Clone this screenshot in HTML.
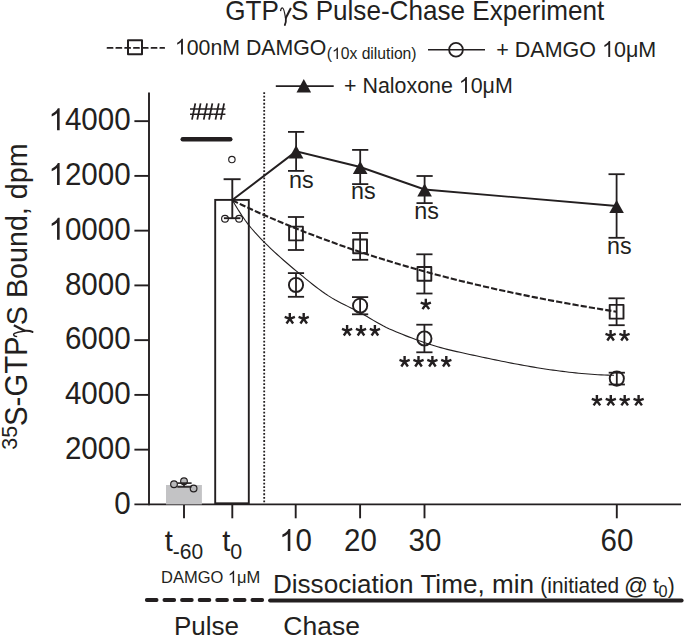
<!DOCTYPE html>
<html><head><meta charset="utf-8"><style>
html,body{margin:0;padding:0;background:#fff;overflow:hidden;width:685px;height:636px;}
svg{display:block;}
text{font-family:"Liberation Sans", sans-serif;fill:#231f20;stroke:none;}
</style></head><body>
<svg width="685" height="636" viewBox="0 0 685 636" stroke="#231f20">
<text transform="translate(225.29,19.70) scale(1.0,1.04)" font-size="26.1" >GTP</text>
<g transform="translate(280.00,19.70) scale(26.1)" fill="none"><path d="M0.02,-0.33 C0.03,-0.42 0.06,-0.455 0.095,-0.455 C0.15,-0.455 0.175,-0.30 0.215,-0.05" stroke-width="0.048"/><path d="M0.418,-0.445 L0.215,-0.05" stroke-width="0.08"/><path d="M0.225,-0.06 C0.235,0.05 0.215,0.15 0.185,0.205" stroke-width="0.07" stroke-linecap="round"/></g>
<text transform="translate(291.03,19.70) scale(1.0,1.04)" font-size="26.1" >S Pulse-Chase Experiment</text>
<line x1="107.50" y1="47.90" x2="164.20" y2="47.90" stroke-width="1.8" stroke-dasharray="5.1 3.7" stroke-linecap="round"/>
<rect x="128.00" y="40.20" width="14" height="14" fill="none" stroke-width="2" stroke-linejoin="round"/>
<text transform="translate(174.88,54.60) scale(1.0,1.04)" font-size="21.3" > 00nM DAMGO</text>
<path transform="translate(174.88,54.60) scale(21.300,22.152)" d="M0.378,0 L0.29,0 L0.29,-0.555 C0.25,-0.52 0.18,-0.475 0.109,-0.447 L0.109,-0.535 C0.2,-0.58 0.28,-0.64 0.318,-0.716 L0.378,-0.716 Z" stroke="none" fill="#231f20"/>
<text transform="translate(326.76,59.10) scale(1.0,1.04)" font-size="15.7" >( 0x dilution)</text>
<path transform="translate(331.99,59.10) scale(15.700,16.328)" d="M0.378,0 L0.29,0 L0.29,-0.555 C0.25,-0.52 0.18,-0.475 0.109,-0.447 L0.109,-0.535 C0.2,-0.58 0.28,-0.64 0.318,-0.716 L0.378,-0.716 Z" stroke="none" fill="#231f20"/>
<line x1="428.00" y1="49.70" x2="485.00" y2="49.70" stroke-width="1.5" />
<circle cx="456" cy="49.7" r="6.9" fill="none" stroke-width="1.8"/>
<text transform="translate(496.32,57.00) scale(1.0,1.04)" font-size="21.5" >+ DAMGO  0μM</text>
<path transform="translate(602.05,57.00) scale(21.500,22.360)" d="M0.378,0 L0.29,0 L0.29,-0.555 C0.25,-0.52 0.18,-0.475 0.109,-0.447 L0.109,-0.535 C0.2,-0.58 0.28,-0.64 0.318,-0.716 L0.378,-0.716 Z" stroke="none" fill="#231f20"/>
<line x1="275.80" y1="86.10" x2="333.70" y2="86.10" stroke-width="1.8" />
<polygon points="303.8,79 296.5,92.6 311.1,92.6" fill="#231f20" stroke="none"/>
<text transform="translate(344.03,92.90) scale(1.0,1.04)" font-size="21.4" >+ Naloxone  0μM</text>
<path transform="translate(458.84,92.90) scale(21.400,22.256)" d="M0.378,0 L0.29,0 L0.29,-0.555 C0.25,-0.52 0.18,-0.475 0.109,-0.447 L0.109,-0.535 C0.2,-0.58 0.28,-0.64 0.318,-0.716 L0.378,-0.716 Z" stroke="none" fill="#231f20"/>
<line x1="149.00" y1="92.50" x2="149.00" y2="505.30" stroke-width="1.9" />
<line x1="134.40" y1="504.40" x2="681.00" y2="504.40" stroke-width="1.9" />
<line x1="134.40" y1="449.65" x2="149.00" y2="449.65" stroke-width="1.9" />
<line x1="134.40" y1="394.90" x2="149.00" y2="394.90" stroke-width="1.9" />
<line x1="134.40" y1="340.15" x2="149.00" y2="340.15" stroke-width="1.9" />
<line x1="134.40" y1="285.40" x2="149.00" y2="285.40" stroke-width="1.9" />
<line x1="134.40" y1="230.65" x2="149.00" y2="230.65" stroke-width="1.9" />
<line x1="134.40" y1="175.90" x2="149.00" y2="175.90" stroke-width="1.9" />
<line x1="134.40" y1="121.15" x2="149.00" y2="121.15" stroke-width="1.9" />
<text transform="translate(114.31,513.60) scale(1.0,1.04)" font-size="29.6" >0</text>
<text transform="translate(64.88,458.85) scale(1.0,1.04)" font-size="29.6" >2000</text>
<text transform="translate(64.88,404.10) scale(1.0,1.04)" font-size="29.6" >4000</text>
<text transform="translate(64.88,349.35) scale(1.0,1.04)" font-size="29.6" >6000</text>
<text transform="translate(64.88,294.60) scale(1.0,1.04)" font-size="29.6" >8000</text>
<text transform="translate(48.45,239.85) scale(1.0,1.04)" font-size="29.6" > 0000</text>
<path transform="translate(48.45,239.85) scale(29.600,30.784)" d="M0.378,0 L0.29,0 L0.29,-0.555 C0.25,-0.52 0.18,-0.475 0.109,-0.447 L0.109,-0.535 C0.2,-0.58 0.28,-0.64 0.318,-0.716 L0.378,-0.716 Z" stroke="none" fill="#231f20"/>
<text transform="translate(48.45,185.10) scale(1.0,1.04)" font-size="29.6" > 2000</text>
<path transform="translate(48.45,185.10) scale(29.600,30.784)" d="M0.378,0 L0.29,0 L0.29,-0.555 C0.25,-0.52 0.18,-0.475 0.109,-0.447 L0.109,-0.535 C0.2,-0.58 0.28,-0.64 0.318,-0.716 L0.378,-0.716 Z" stroke="none" fill="#231f20"/>
<text transform="translate(48.45,130.35) scale(1.0,1.04)" font-size="29.6" > 4000</text>
<path transform="translate(48.45,130.35) scale(29.600,30.784)" d="M0.378,0 L0.29,0 L0.29,-0.555 C0.25,-0.52 0.18,-0.475 0.109,-0.447 L0.109,-0.535 C0.2,-0.58 0.28,-0.64 0.318,-0.716 L0.378,-0.716 Z" stroke="none" fill="#231f20"/>
<line x1="184.00" y1="504.40" x2="184.00" y2="518.30" stroke-width="1.9" />
<line x1="232.30" y1="504.40" x2="232.30" y2="518.30" stroke-width="1.9" />
<line x1="295.70" y1="504.40" x2="295.70" y2="518.30" stroke-width="1.9" />
<line x1="360.10" y1="504.40" x2="360.10" y2="518.30" stroke-width="1.9" />
<line x1="424.50" y1="504.40" x2="424.50" y2="518.30" stroke-width="1.9" />
<line x1="616.80" y1="504.40" x2="616.80" y2="518.30" stroke-width="1.9" />
<text transform="translate(279.19,551.00) scale(1.0,1.04)" font-size="29.5" > 0</text>
<path transform="translate(279.19,551.00) scale(29.500,30.680)" d="M0.378,0 L0.29,0 L0.29,-0.555 C0.25,-0.52 0.18,-0.475 0.109,-0.447 L0.109,-0.535 C0.2,-0.58 0.28,-0.64 0.318,-0.716 L0.378,-0.716 Z" stroke="none" fill="#231f20"/>
<text transform="translate(344.01,551.00) scale(1.0,1.04)" font-size="29.5" >20</text>
<text transform="translate(408.55,551.00) scale(1.0,1.04)" font-size="29.5" >30</text>
<text transform="translate(600.61,551.00) scale(1.0,1.04)" font-size="29.5" >60</text>
<text x="164.87" y="551.00" font-size="29" >t</text>
<text transform="translate(172.86,559.40) scale(1.0,1.04)" font-size="21" >-60</text>
<text x="222.37" y="551.00" font-size="29" >t</text>
<text transform="translate(230.14,559.40) scale(1.0,1.04)" font-size="21.5" >0</text>
<text transform="translate(160.98,583.10) scale(1.0,1.04)" font-size="16.5" >DAMGO  μM</text>
<path transform="translate(227.90,583.10) scale(16.500,17.160)" d="M0.378,0 L0.29,0 L0.29,-0.555 C0.25,-0.52 0.18,-0.475 0.109,-0.447 L0.109,-0.535 C0.2,-0.58 0.28,-0.64 0.318,-0.716 L0.378,-0.716 Z" stroke="none" fill="#231f20"/>
<text transform="translate(272.91,592.60) scale(1.0,1.02)" font-size="26.1" >Dissociation Time, min</text>
<text transform="translate(540.35,592.60) scale(1.0,1.02)" font-size="20.85" >(initiated</text>
<text x="624.00" y="594.00" font-size="23.7" >@</text>
<text transform="translate(653.09,592.60) scale(1.0,1.02)" font-size="20.85" >t</text>
<text transform="translate(658.45,597.40) scale(1.0,1.04)" font-size="16.3" >0</text>
<text transform="translate(667.67,592.60) scale(1.0,1.02)" font-size="20.85" >)</text>
<line x1="146.80" y1="600.00" x2="262.80" y2="600.00" stroke-width="3.8" stroke-linecap="round" stroke-dasharray="9.8 7.8"/>
<line x1="270.10" y1="600.50" x2="681.60" y2="600.50" stroke-width="4" stroke-linecap="round"/>
<text x="173.92" y="634.80" font-size="26" >Pulse</text>
<text x="283.28" y="634.50" font-size="26.5" >Chase</text>
<g transform="rotate(-90)">
<text transform="translate(-449.76,16.70) scale(1.0,1.05)" font-size="21.5" >35</text>
<text transform="translate(-425.92,26.60) scale(1.0,1.06)" font-size="29.3" >S-GTP</text>
<g transform="translate(-337.20,26.60) scale(28.6)" fill="none"><path d="M0.02,-0.33 C0.03,-0.42 0.06,-0.455 0.095,-0.455 C0.15,-0.455 0.175,-0.30 0.215,-0.05" stroke-width="0.048"/><path d="M0.418,-0.445 L0.215,-0.05" stroke-width="0.08"/><path d="M0.225,-0.06 C0.235,0.05 0.215,0.15 0.185,0.205" stroke-width="0.07" stroke-linecap="round"/></g>
<text transform="translate(-325.19,26.60) scale(1.0,1.06)" font-size="28.7" >S Bound, dpm</text>
</g>
<rect x="166" y="485" width="35.9" height="19.399999999999977" fill="#c3c3c5" stroke="none"/>
<circle cx="174" cy="484.3" r="3.35" fill="#b9b9bb" stroke-width="1.15"/>
<circle cx="184" cy="481.3" r="3.35" fill="#b9b9bb" stroke-width="1.15"/>
<circle cx="193.6" cy="488.5" r="3.35" fill="#b9b9bb" stroke-width="1.15"/>
<line x1="177.30" y1="483.10" x2="191.60" y2="483.10" stroke-width="1.6" />
<line x1="177.30" y1="486.90" x2="191.60" y2="486.90" stroke-width="1.6" />
<line x1="184.00" y1="483.10" x2="184.00" y2="486.90" stroke-width="1.6" />
<rect x="215.2" y="199.9" width="33.6" height="303.40" fill="none" stroke-width="1.9"/>
<line x1="232.30" y1="179.20" x2="232.30" y2="218.20" stroke-width="1.9" />
<line x1="223.60" y1="179.20" x2="240.60" y2="179.20" stroke-width="1.9" />
<line x1="223.90" y1="218.20" x2="240.40" y2="218.20" stroke-width="1.9" />
<circle cx="231.9" cy="159.5" r="3.2" fill="none" stroke-width="1.15"/>
<circle cx="225" cy="218.7" r="3.4" fill="none" stroke-width="1.15"/>
<circle cx="239.1" cy="218.7" r="3.4" fill="none" stroke-width="1.15"/>
<path d="M195.30,103.3 L192.00,119.6 M200.60,103.3 L197.30,119.6" stroke-width="1.75" fill="none"/>
<path d="M190.00,109.05 h11.9 M190.00,114.3 h11.9" stroke-width="1.5" fill="none"/>
<path d="M207.05,103.3 L203.75,119.6 M212.35,103.3 L209.05,119.6" stroke-width="1.75" fill="none"/>
<path d="M201.75,109.05 h11.9 M201.75,114.3 h11.9" stroke-width="1.5" fill="none"/>
<path d="M218.80,103.3 L215.50,119.6 M224.10,103.3 L220.80,119.6" stroke-width="1.75" fill="none"/>
<path d="M213.50,109.05 h11.9 M213.50,114.3 h11.9" stroke-width="1.5" fill="none"/>
<line x1="182.70" y1="139.30" x2="230.30" y2="139.30" stroke-width="4.4" stroke-linecap="round"/>
<line x1="264.20" y1="92.20" x2="264.20" y2="503.50" stroke-width="1.8" stroke-dasharray="1.8 1.75"/>
<path d="M232.30,200.30 L237.16,202.64 L242.03,204.95 L246.89,207.23 L251.75,209.48 L256.62,211.69 L261.48,213.87 L266.34,216.02 L271.21,218.14 L276.07,220.23 L280.93,222.29 L285.80,224.32 L290.66,226.32 L295.52,228.29 L300.39,230.23 L305.25,232.15 L310.11,234.04 L314.98,235.90 L319.84,237.73 L324.70,239.54 L329.57,241.32 L334.43,243.08 L339.29,244.81 L344.16,246.52 L349.02,248.20 L353.88,249.86 L358.75,251.50 L363.61,253.11 L368.47,254.70 L373.34,256.26 L378.20,257.81 L383.06,259.33 L387.93,260.83 L392.79,262.31 L397.65,263.76 L402.52,265.20 L407.38,266.62 L412.24,268.01 L417.11,269.39 L421.97,270.74 L426.83,272.08 L431.69,273.40 L436.56,274.70 L441.42,275.98 L446.28,277.24 L451.15,278.48 L456.01,279.71 L460.87,280.92 L465.74,282.11 L470.60,283.28 L475.46,284.44 L480.33,285.58 L485.19,286.70 L490.05,287.81 L494.92,288.90 L499.78,289.98 L504.64,291.04 L509.51,292.09 L514.37,293.12 L519.23,294.14 L524.10,295.14 L528.96,296.13 L533.82,297.10 L538.69,298.06 L543.55,299.01 L548.41,299.94 L553.28,300.86 L558.14,301.76 L563.00,302.66 L567.87,303.54 L572.73,304.40 L577.59,305.26 L582.46,306.10 L587.32,306.93 L592.18,307.75 L597.05,308.56 L601.91,309.35 L606.77,310.14 L611.64,310.91 L616.50,311.67" fill="none" stroke-width="2.1" stroke-dasharray="6.2 2.1"/>
<path d="M232.30,200.00 L235.51,205.46 L238.72,210.67 L241.92,215.60 L245.13,220.23 L248.34,224.54 L251.55,228.51 L254.75,232.22 L257.96,235.70 L261.17,239.04 L264.38,242.28 L267.58,245.45 L270.79,248.54 L274.00,251.56 L277.21,254.51 L280.41,257.41 L283.62,260.24 L286.83,263.03 L290.04,265.77 L293.24,268.47 L296.45,271.14 L299.66,273.78 L302.87,276.43 L306.07,279.06 L309.28,281.66 L312.49,284.22 L315.70,286.73 L318.90,289.16 L322.11,291.51 L325.32,293.75 L328.53,295.87 L331.73,297.86 L334.94,299.72 L338.15,301.48 L341.36,303.16 L344.56,304.79 L347.77,306.38 L350.98,307.97 L354.19,309.58 L357.39,311.22 L360.60,312.93 L363.81,314.72 L367.02,316.58 L370.23,318.47 L373.43,320.38 L376.64,322.26 L379.85,324.09 L383.06,325.83 L386.26,327.47 L389.47,328.97 L392.68,330.35 L395.89,331.71 L399.09,333.04 L402.30,334.35 L405.51,335.63 L408.72,336.88 L411.92,338.10 L415.13,339.30 L418.34,340.46 L421.55,341.59 L424.75,342.69 L427.96,343.75 L431.17,344.78 L434.38,345.77 L437.58,346.72 L440.79,347.64 L444.00,348.51 L447.21,349.35 L450.41,350.14 L453.62,350.89 L456.83,351.60 L460.04,352.31 L463.24,353.02 L466.45,353.72 L469.66,354.43 L472.87,355.12 L476.07,355.82 L479.28,356.51 L482.49,357.20 L485.70,357.88 L488.91,358.55 L492.11,359.22 L495.32,359.89 L498.53,360.54 L501.74,361.19 L504.94,361.83 L508.15,362.46 L511.36,363.09 L514.57,363.70 L517.77,364.30 L520.98,364.90 L524.19,365.48 L527.40,366.05 L530.60,366.61 L533.81,367.15 L537.02,367.69 L540.23,368.21 L543.43,368.71 L546.64,369.20 L549.85,369.68 L553.06,370.14 L556.26,370.58 L559.47,371.01 L562.68,371.42 L565.89,371.82 L569.09,372.19 L572.30,372.55 L575.51,372.89 L578.72,373.21 L581.92,373.51 L585.13,373.79 L588.34,374.05 L591.55,374.28 L594.75,374.50 L597.96,374.69 L601.17,374.86 L604.38,375.01 L607.58,375.13 L610.79,375.23 L614.00,375.30" fill="none" stroke-width="1.1"/>
<polyline points="232.3,200 296.1,151.4 360.2,167 424.6,189.5 616.6,206" fill="none" stroke-width="1.9"/>
<line x1="296.10" y1="131.90" x2="296.10" y2="170.90" stroke-width="1.8" />
<line x1="288.00" y1="131.90" x2="304.20" y2="131.90" stroke-width="1.8" />
<line x1="288.00" y1="170.90" x2="304.20" y2="170.90" stroke-width="1.8" />
<polygon points="296.1,145.30 288.8,158.40 303.40000000000003,158.40" fill="#231f20" stroke="none"/>
<line x1="360.20" y1="149.90" x2="360.20" y2="184.10" stroke-width="1.8" />
<line x1="352.10" y1="149.90" x2="368.30" y2="149.90" stroke-width="1.8" />
<line x1="352.10" y1="184.10" x2="368.30" y2="184.10" stroke-width="1.8" />
<polygon points="360.2,160.90 352.9,174.00 367.5,174.00" fill="#231f20" stroke="none"/>
<line x1="424.60" y1="176.00" x2="424.60" y2="203.10" stroke-width="1.8" />
<line x1="416.50" y1="176.00" x2="432.70" y2="176.00" stroke-width="1.8" />
<line x1="416.50" y1="203.10" x2="432.70" y2="203.10" stroke-width="1.8" />
<polygon points="424.6,183.45 417.3,196.55 431.90000000000003,196.55" fill="#231f20" stroke="none"/>
<line x1="616.60" y1="174.20" x2="616.60" y2="237.80" stroke-width="1.8" />
<line x1="608.50" y1="174.20" x2="624.70" y2="174.20" stroke-width="1.8" />
<line x1="608.50" y1="237.80" x2="624.70" y2="237.80" stroke-width="1.8" />
<polygon points="616.6,199.90 609.3000000000001,213.00 623.9,213.00" fill="#231f20" stroke="none"/>
<line x1="296.00" y1="217.00" x2="296.00" y2="250.00" stroke-width="1.8" />
<line x1="287.90" y1="217.00" x2="304.10" y2="217.00" stroke-width="1.8" />
<line x1="287.90" y1="250.00" x2="304.10" y2="250.00" stroke-width="1.8" />
<rect x="289.10" y="226.60" width="13.8" height="13.8" fill="none" stroke-width="1.9" stroke-linejoin="round"/>
<line x1="360.10" y1="233.00" x2="360.10" y2="259.80" stroke-width="1.8" />
<line x1="352.00" y1="233.00" x2="368.20" y2="233.00" stroke-width="1.8" />
<line x1="352.00" y1="259.80" x2="368.20" y2="259.80" stroke-width="1.8" />
<rect x="353.20" y="239.50" width="13.8" height="13.8" fill="none" stroke-width="1.9" stroke-linejoin="round"/>
<line x1="424.40" y1="254.30" x2="424.40" y2="293.50" stroke-width="1.8" />
<line x1="416.30" y1="254.30" x2="432.50" y2="254.30" stroke-width="1.8" />
<line x1="416.30" y1="293.50" x2="432.50" y2="293.50" stroke-width="1.8" />
<rect x="417.50" y="267.00" width="13.8" height="13.8" fill="none" stroke-width="1.9" stroke-linejoin="round"/>
<line x1="616.60" y1="298.30" x2="616.60" y2="325.20" stroke-width="1.8" />
<line x1="608.50" y1="298.30" x2="624.70" y2="298.30" stroke-width="1.8" />
<line x1="608.50" y1="325.20" x2="624.70" y2="325.20" stroke-width="1.8" />
<rect x="609.70" y="304.85" width="13.8" height="13.8" fill="none" stroke-width="1.9" stroke-linejoin="round"/>
<line x1="296.00" y1="273.10" x2="296.00" y2="296.80" stroke-width="1.8" />
<line x1="287.90" y1="273.10" x2="304.10" y2="273.10" stroke-width="1.8" />
<line x1="287.90" y1="296.80" x2="304.10" y2="296.80" stroke-width="1.8" />
<circle cx="296" cy="284.95" r="7.1" fill="none" stroke-width="1.9"/>
<line x1="360.10" y1="297.10" x2="360.10" y2="314.30" stroke-width="1.8" />
<line x1="352.00" y1="297.10" x2="368.20" y2="297.10" stroke-width="1.8" />
<line x1="352.00" y1="314.30" x2="368.20" y2="314.30" stroke-width="1.8" />
<circle cx="360.1" cy="305.70" r="7.1" fill="none" stroke-width="1.9"/>
<line x1="424.40" y1="324.70" x2="424.40" y2="352.30" stroke-width="1.8" />
<line x1="416.30" y1="324.70" x2="432.50" y2="324.70" stroke-width="1.8" />
<line x1="416.30" y1="352.30" x2="432.50" y2="352.30" stroke-width="1.8" />
<circle cx="424.4" cy="338.50" r="7.1" fill="none" stroke-width="1.9"/>
<line x1="616.80" y1="372.70" x2="616.80" y2="384.50" stroke-width="1.8" />
<line x1="608.70" y1="372.70" x2="624.90" y2="372.70" stroke-width="1.8" />
<line x1="608.70" y1="384.50" x2="624.90" y2="384.50" stroke-width="1.8" />
<circle cx="616.8" cy="378.60" r="7.1" fill="none" stroke-width="1.9"/>
<text x="288.99" y="187.90" font-size="23.3" >ns</text>
<text x="351.09" y="199.20" font-size="23.3" >ns</text>
<text x="414.29" y="218.50" font-size="23.3" >ns</text>
<text x="607.09" y="253.60" font-size="23.3" >ns</text>
<path d="M289.80,318.85 l0,-5.8 M289.80,318.85 l-5.1,-1.9 M289.80,318.85 l5.1,-1.9 M289.80,318.85 l-3.3,4.7 M289.80,318.85 l3.3,4.7" stroke-width="2.4" fill="none" stroke-linecap="butt"/>
<path d="M303.70,318.85 l0,-5.8 M303.70,318.85 l-5.1,-1.9 M303.70,318.85 l5.1,-1.9 M303.70,318.85 l-3.3,4.7 M303.70,318.85 l3.3,4.7" stroke-width="2.4" fill="none" stroke-linecap="butt"/>
<path d="M347.10,330.80 l0,-5.8 M347.10,330.80 l-5.1,-1.9 M347.10,330.80 l5.1,-1.9 M347.10,330.80 l-3.3,4.7 M347.10,330.80 l3.3,4.7" stroke-width="2.4" fill="none" stroke-linecap="butt"/>
<path d="M361.00,330.80 l0,-5.8 M361.00,330.80 l-5.1,-1.9 M361.00,330.80 l5.1,-1.9 M361.00,330.80 l-3.3,4.7 M361.00,330.80 l3.3,4.7" stroke-width="2.4" fill="none" stroke-linecap="butt"/>
<path d="M374.90,330.80 l0,-5.8 M374.90,330.80 l-5.1,-1.9 M374.90,330.80 l5.1,-1.9 M374.90,330.80 l-3.3,4.7 M374.90,330.80 l3.3,4.7" stroke-width="2.4" fill="none" stroke-linecap="butt"/>
<path d="M404.60,361.80 l0,-5.8 M404.60,361.80 l-5.1,-1.9 M404.60,361.80 l5.1,-1.9 M404.60,361.80 l-3.3,4.7 M404.60,361.80 l3.3,4.7" stroke-width="2.4" fill="none" stroke-linecap="butt"/>
<path d="M418.50,361.80 l0,-5.8 M418.50,361.80 l-5.1,-1.9 M418.50,361.80 l5.1,-1.9 M418.50,361.80 l-3.3,4.7 M418.50,361.80 l3.3,4.7" stroke-width="2.4" fill="none" stroke-linecap="butt"/>
<path d="M432.40,361.80 l0,-5.8 M432.40,361.80 l-5.1,-1.9 M432.40,361.80 l5.1,-1.9 M432.40,361.80 l-3.3,4.7 M432.40,361.80 l3.3,4.7" stroke-width="2.4" fill="none" stroke-linecap="butt"/>
<path d="M446.30,361.80 l0,-5.8 M446.30,361.80 l-5.1,-1.9 M446.30,361.80 l5.1,-1.9 M446.30,361.80 l-3.3,4.7 M446.30,361.80 l3.3,4.7" stroke-width="2.4" fill="none" stroke-linecap="butt"/>
<path d="M425.80,304.45 l0,-5.8 M425.80,304.45 l-5.1,-1.9 M425.80,304.45 l5.1,-1.9 M425.80,304.45 l-3.3,4.7 M425.80,304.45 l3.3,4.7" stroke-width="2.4" fill="none" stroke-linecap="butt"/>
<path d="M610.60,335.75 l0,-5.8 M610.60,335.75 l-5.1,-1.9 M610.60,335.75 l5.1,-1.9 M610.60,335.75 l-3.3,4.7 M610.60,335.75 l3.3,4.7" stroke-width="2.4" fill="none" stroke-linecap="butt"/>
<path d="M624.50,335.75 l0,-5.8 M624.50,335.75 l-5.1,-1.9 M624.50,335.75 l5.1,-1.9 M624.50,335.75 l-3.3,4.7 M624.50,335.75 l3.3,4.7" stroke-width="2.4" fill="none" stroke-linecap="butt"/>
<path d="M596.90,400.70 l0,-5.8 M596.90,400.70 l-5.1,-1.9 M596.90,400.70 l5.1,-1.9 M596.90,400.70 l-3.3,4.7 M596.90,400.70 l3.3,4.7" stroke-width="2.4" fill="none" stroke-linecap="butt"/>
<path d="M610.80,400.70 l0,-5.8 M610.80,400.70 l-5.1,-1.9 M610.80,400.70 l5.1,-1.9 M610.80,400.70 l-3.3,4.7 M610.80,400.70 l3.3,4.7" stroke-width="2.4" fill="none" stroke-linecap="butt"/>
<path d="M624.70,400.70 l0,-5.8 M624.70,400.70 l-5.1,-1.9 M624.70,400.70 l5.1,-1.9 M624.70,400.70 l-3.3,4.7 M624.70,400.70 l3.3,4.7" stroke-width="2.4" fill="none" stroke-linecap="butt"/>
<path d="M638.60,400.70 l0,-5.8 M638.60,400.70 l-5.1,-1.9 M638.60,400.70 l5.1,-1.9 M638.60,400.70 l-3.3,4.7 M638.60,400.70 l3.3,4.7" stroke-width="2.4" fill="none" stroke-linecap="butt"/>
</svg>
</body></html>
